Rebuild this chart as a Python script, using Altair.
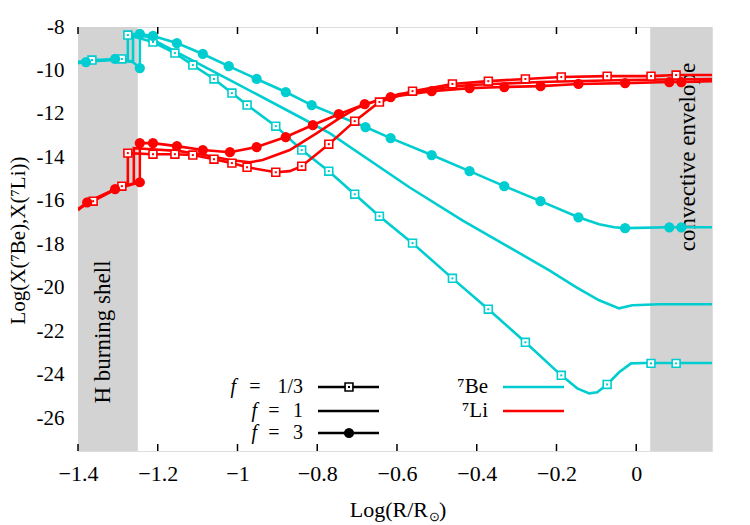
import altair as alt
import pandas as pd

# ---------------------------------------------------------------- layout
W, H = 634, 424
X_DOM = [-1.4, 0.19]
Y_DOM = [-27.5, -8.0]
CYAN = "#00cdd0"
RED = "#ff0000"
GRAY = "#d3d3d3"
FONT = "Liberation Serif"

# ---------------------------------------------------------------- data
x_ticks = [-1.4, -1.2, -1.0, -0.8, -0.6, -0.4, -0.2, 0.0]
y_ticks = [-8, -10, -12, -14, -16, -18, -20, -22, -24, -26]

# convective / burning regions
shade_x0 = [-1.4, 0.035]
shade_x1 = [-1.25, 0.19]

# 7Be, f = 1/3
be13_x = [-1.40, -1.365, -1.290, -1.275, -1.275, -1.212, -1.157, -1.112, -1.059, -1.014,
          -0.976, -0.904, -0.839, -0.771, -0.706, -0.644, -0.561, -0.461, -0.371, -0.278,
          -0.188, -0.148, -0.118, -0.098, -0.073, -0.043, -0.013, 0.020, 0.19]
be13_y = [-9.61, -9.52, -9.47, -9.52, -8.37, -8.69, -9.20, -9.75, -10.39, -11.04,
          -11.59, -12.56, -13.66, -14.63, -15.69, -16.70, -17.94, -19.56, -20.98, -22.50,
          -24.02, -24.62, -24.85, -24.80, -24.44, -23.88, -23.47, -23.45, -23.45]
be13_mx = [-1.365, -1.290, -1.275, -1.212, -1.157, -1.112, -1.059, -1.014, -0.976, -0.904,
           -0.839, -0.771, -0.706, -0.644, -0.561, -0.461, -0.371, -0.278, -0.188, -0.073,
           0.037, 0.100]
be13_my = [-9.52, -9.47, -8.37, -8.69, -9.20, -9.75, -10.39, -11.04, -11.59, -12.56,
           -13.66, -14.63, -15.69, -16.70, -17.94, -19.56, -20.98, -22.50, -24.02, -24.44,
           -23.47, -23.47]

# 7Be, f = 1
be1_x = [-1.40, -1.307, -1.262, -1.262, -1.225, -1.019, -0.844, -0.769, -0.569, -0.436,
         -0.218, -0.150, -0.093, -0.043, -0.010, 0.058, 0.19]
be1_y = [-9.61, -9.52, -9.61, -8.32, -8.46, -10.44, -12.14, -12.88, -15.37, -16.89,
         -19.19, -19.97, -20.57, -20.94, -20.80, -20.75, -20.75]

# 7Be, f = 3
be3_x = [-1.40, -1.380, -1.307, -1.265, -1.245, -1.245, -1.212, -1.152, -1.087, -1.022,
         -0.952, -0.879, -0.814, -0.746, -0.679, -0.616, -0.513, -0.418, -0.331, -0.240,
         -0.145, -0.093, -0.055, -0.028, 0.083, 0.19]
be3_y = [-9.66, -9.61, -9.47, -9.57, -9.89, -8.32, -8.41, -8.74, -9.24, -9.80,
         -10.39, -10.99, -11.59, -12.10, -12.60, -13.11, -13.89, -14.63, -15.32, -16.01,
         -16.75, -17.07, -17.21, -17.25, -17.21, -17.21]
be3_mx = [-1.380, -1.307, -1.245, -1.245, -1.212, -1.152, -1.087, -1.022, -0.952, -0.879,
          -0.814, -0.679, -0.616, -0.513, -0.418, -0.331, -0.240, -0.145, -0.028, 0.083,
          0.113]
be3_my = [-9.61, -9.47, -9.89, -8.32, -8.41, -8.74, -9.24, -9.80, -10.39, -10.99,
          -11.59, -12.60, -13.11, -13.89, -14.63, -15.32, -16.01, -16.75, -17.25, -17.21,
          -17.21]

# 7Li, f = 1/3
li13_x = [-1.40, -1.362, -1.290, -1.275, -1.275, -1.212, -1.157, -1.112, -1.059, -1.014,
          -0.976, -0.904, -0.869, -0.839, -0.771, -0.706, -0.644, -0.561, -0.461, -0.371,
          -0.278, -0.188, -0.073, 0.037, 0.100, 0.19]
li13_y = [-16.38, -16.01, -15.32, -15.18, -13.80, -13.85, -13.85, -13.89, -14.08, -14.26,
          -14.45, -14.68, -14.63, -14.40, -13.39, -12.33, -11.45, -10.95, -10.62, -10.49,
          -10.39, -10.30, -10.26, -10.26, -10.21, -10.21]
li13_mx = [-1.362, -1.290, -1.275, -1.212, -1.157, -1.112, -1.059, -1.014, -0.976, -0.904,
           -0.839, -0.771, -0.706, -0.644, -0.561, -0.461, -0.371, -0.278, -0.188, -0.073,
           0.037, 0.100]
li13_my = [-16.01, -15.32, -13.80, -13.85, -13.85, -13.89, -14.08, -14.26, -14.45, -14.68,
           -14.40, -13.39, -12.33, -11.45, -10.95, -10.62, -10.49, -10.39, -10.30, -10.26,
           -10.26, -10.21]

# 7Li, f = 1
li1_x = [-1.40, -1.377, -1.307, -1.260, -1.260, -1.215, -1.145, -1.082, -1.019, -0.969,
         -0.937, -0.869, -0.801, -0.744, -0.701, -0.661, -0.594, -0.513, -0.418, -0.240,
         -0.028, 0.19]
li1_y = [-16.38, -16.06, -15.46, -15.18, -13.57, -13.62, -13.71, -13.89, -14.12, -14.22,
         -14.12, -13.66, -12.88, -12.19, -11.73, -11.45, -11.08, -10.85, -10.67, -10.53,
         -10.44, -10.39]

# 7Li, f = 3
li3_x = [-1.40, -1.377, -1.307, -1.245, -1.245, -1.212, -1.152, -1.087, -1.019, -0.952,
         -0.879, -0.811, -0.746, -0.681, -0.616, -0.513, -0.418, -0.331, -0.240, -0.145,
         -0.028, 0.083, 0.113, 0.19]
li3_y = [-16.43, -16.06, -15.46, -15.14, -13.34, -13.34, -13.48, -13.66, -13.76, -13.52,
         -13.06, -12.51, -12.01, -11.55, -11.22, -10.95, -10.81, -10.76, -10.72, -10.62,
         -10.58, -10.53, -10.53, -10.49]
li3_mx = li3_x[1:-1]
li3_my = li3_y[1:-1]

f_labels = ["1/3", "1", "3"]
species_labels = ["\u2077Be", "\u2077Li"]

# ---------------------------------------------------------------- helpers
x_axis = alt.Axis(values=x_ticks, format="~g", ticks=False, domain=False, grid=False,
                  labelFont=FONT, labelFontSize=22, labelColor="black", labelPadding=12,
                  labelFlush=False, labelOverlap=False, title=None)
y_axis = alt.Axis(values=y_ticks, labelExpr="'' + datum.value", ticks=False, domain=False,
                  grid=False, labelFont=FONT, labelFontSize=21, labelColor="black",
                  labelPadding=14, labelFlush=False, labelOverlap=False,
                  title="Log(X(\u2077Be),X(\u2077Li))", titleFont=FONT, titleFontSize=21,
                  titleFontWeight="normal", titleColor="black", titleX=-60, titleY=213,
                  titleBaseline="middle", titleAlign="center", titleAngle=270)


def X(field="x"):
    return alt.X(f"{field}:Q", scale=alt.Scale(domain=X_DOM, nice=False, zero=False),
                 axis=x_axis)


def Y(field="y"):
    return alt.Y(f"{field}:Q", scale=alt.Scale(domain=Y_DOM, nice=False, zero=False),
                 axis=y_axis)


def curve(xs, ys, color):
    df = pd.DataFrame({"x": xs, "y": ys, "i": range(len(xs))})
    return alt.Chart(df).mark_line(color=color, strokeWidth=2.6, clip=True).encode(
        x=X(), y=Y(), order=alt.Order("i:Q"))


def circles(xs, ys, color):
    df = pd.DataFrame({"x": xs, "y": ys})
    return alt.Chart(df).mark_point(shape="circle", filled=True, size=105, color=color,
                                    opacity=1).encode(x=X(), y=Y())


def squares(xs, ys, color):
    df = pd.DataFrame({"x": xs, "y": ys})
    box = alt.Chart(df).mark_point(shape="square", filled=True, fill="white", stroke=color,
                                   strokeWidth=1.6, size=62, opacity=1).encode(x=X(), y=Y())
    dot = alt.Chart(df).mark_point(shape="square", filled=True, color=color, size=4,
                                   opacity=1).encode(x=X(), y=Y())
    return box + dot


def label(text, px, py, size=21, align="left", style="normal", angle=0):
    return alt.Chart(pd.DataFrame({"t": [text]})).mark_text(
        font=FONT, fontSize=size, fontStyle=style, align=align, baseline="middle",
        color="black", angle=angle).encode(x=alt.value(px), y=alt.value(py), text="t:N")


# ---------------------------------------------------------------- layers
shade_df = pd.DataFrame({"x0": shade_x0, "x1": shade_x1})
shade = alt.Chart(shade_df).mark_rect(color=GRAY).encode(
    x=X("x0"), x2="x1:Q", y=alt.value(0), y2=alt.value(H))

tick_df = pd.DataFrame({"x": x_ticks})
ticks_bottom = alt.Chart(tick_df).mark_rule(color="black", strokeWidth=1.5).encode(
    x=X(), y=alt.value(H), y2=alt.value(H - 7))
ticks_top = alt.Chart(tick_df).mark_rule(color="black", strokeWidth=1.5).encode(
    x=X(), y=alt.value(0), y2=alt.value(7))

layers = [shade, ticks_bottom, ticks_top,
          label("H burning shell", 25, 305, size=23, align="center", angle=270),
          label("convective envelope", 610, 130, size=23, align="center", angle=270),
          curve(be13_x, be13_y, CYAN), curve(be1_x, be1_y, CYAN), curve(be3_x, be3_y, CYAN),
          squares(be13_mx, be13_my, CYAN), circles(be3_mx, be3_my, CYAN),
          curve(li13_x, li13_y, RED), curve(li1_x, li1_y, RED), curve(li3_x, li3_y, RED),
          squares(li13_mx, li13_my, RED), circles(li3_mx, li3_my, RED)]

# x-axis title with a subscript solar symbol
layers += [label("Log(R/R", 350, 483, size=22, align="right"),
           label("\u2299", 351, 490, size=13, align="left"),
           label(")", 361, 483, size=22, align="left")]

# ---------------------------------------------------------------- key
LEG = 19                               # key font size
leg_rows_y = [360, 384, 406]           # pixel rows inside the plot area
f_end_x = [158, 179, 179]              # right edge of the italic f in each row
eq_x = [177, 196, 196]                 # centre of the equals sign in each row
for k, lab in enumerate(f_labels):
    yy = leg_rows_y[k]
    layers += [label("f", f_end_x[k], yy, size=LEG + 1, align="right", style="italic"),
               label("=", eq_x[k], yy, size=LEG + 1, align="center"),
               label(lab, 225, yy, size=LEG + 1, align="right")]
    layers.append(alt.Chart(pd.DataFrame({"t": [lab]})).mark_rule(
        color="black", strokeWidth=2.6).encode(x=alt.value(240), x2=alt.value(301),
                                               y=alt.value(yy)))
    if k == 0:
        layers.append(alt.Chart(pd.DataFrame({"t": [lab]})).mark_point(
            shape="square", filled=True, fill="white", stroke="black", strokeWidth=1.6,
            size=62, opacity=1).encode(x=alt.value(271), y=alt.value(yy)))
        layers.append(alt.Chart(pd.DataFrame({"t": [lab]})).mark_point(
            shape="square", filled=True, color="black", size=4, opacity=1).encode(
            x=alt.value(271), y=alt.value(yy)))
    if k == 2:
        layers.append(alt.Chart(pd.DataFrame({"t": [lab]})).mark_point(
            shape="circle", filled=True, color="black", size=105, opacity=1).encode(
            x=alt.value(271), y=alt.value(yy)))

for k, (lab, col) in enumerate(zip(species_labels, [CYAN, RED])):
    yy = leg_rows_y[k]
    layers.append(label(lab, 410, yy, size=LEG + 2, align="right"))
    layers.append(alt.Chart(pd.DataFrame({"t": [lab]})).mark_rule(
        color=col, strokeWidth=2.6).encode(x=alt.value(425), x2=alt.value(486), y=alt.value(yy)))

chart = alt.layer(*layers).properties(
    width=W, height=H,
    padding={"left": 78, "top": 27, "right": 38, "bottom": 74},
    autosize=alt.AutoSizeParams(type="none"),
).configure_view(stroke="black", strokeWidth=2.2).configure(background="white")

chart.save("out.html", embed_options={"renderer": "svg", "actions": False})
